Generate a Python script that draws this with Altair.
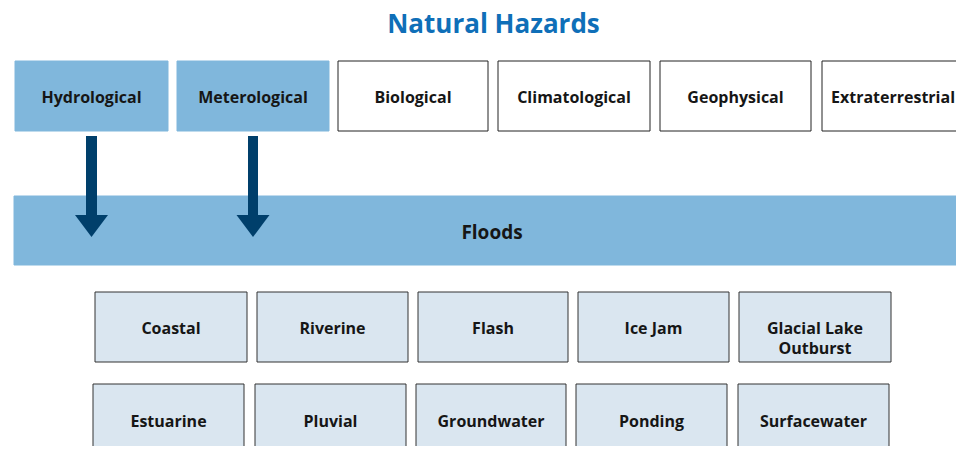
import altair as alt
import pandas as pd

# ---- content ----
title_text = "Natural Hazards"
top_labels = ["Hydrological", "Meterological", "Biological", "Climatological", "Geophysical", "Extraterrestrial"]
top_highlight = [True, True, False, False, False, False]
band_label = "Floods"
row1_labels = ["Coastal", "Riverine", "Flash", "Ice Jam", "Glacial Lake\nOutburst"]
row2_labels = ["Estuarine", "Pluvial", "Groundwater", "Ponding", "Surfacewater"]

# ---- layout (pixel-space of the 964x450 page) ----
top_x0 = [15, 177, 338, 498, 660, 822]
top_x1 = [168, 329, 488, 650, 811, 972]
top_y = (61, 131)
band_x = (14, 972)
band_y = (196, 265)
row1_x0 = [95, 257, 418, 578, 739]
row1_x1 = [247, 408, 568, 729, 891]
row1_y = (292, 362)
row2_x0 = [93, 255, 416, 576, 738]
row2_x1 = [244, 406, 566, 727, 889]
row2_y = (384, 470)
arrow_cx = [91.5, 253]
shaft_w = [11, 10]
shaft_y = (136, 216)
head_cy = 226

BLUE = "#80b7dc"
PALE = "#dae6f0"
NAVY = "#003f6b"
TXT = "#161616"
FONT = "Open Sans"

boxes = []
for lab, hl, a, b in zip(top_labels, top_highlight, top_x0, top_x1):
    boxes.append(dict(label=lab, x0=a, x1=b, y0=top_y[0], y1=top_y[1],
                      fill=BLUE if hl else "#ffffff", stroke=BLUE if hl else "#222222", fs=16))
boxes.append(dict(label=band_label, x0=band_x[0], x1=band_x[1], y0=band_y[0], y1=band_y[1],
                  fill=BLUE, stroke=BLUE, fs=19))
for lab, a, b in zip(row1_labels, row1_x0, row1_x1):
    boxes.append(dict(label=lab, x0=a, x1=b, y0=row1_y[0], y1=row1_y[1], fill=PALE, stroke="#333333", fs=16))
for lab, a, b in zip(row2_labels, row2_x0, row2_x1):
    boxes.append(dict(label=lab, x0=a, x1=b, y0=row2_y[0], y1=row2_y[1], fill=PALE, stroke="#333333", fs=16))
df = pd.DataFrame(boxes)
df["cx"] = (df.x0 + df.x1.clip(upper=964)) / 2
df.loc[df.label == band_label, "cx"] = 492
df["cy"] = (df.y0 + df.y1) / 2 + 2
df.loc[df.label.isin(row2_labels), "cy"] = 422
df["lines"] = df.label.str.split("\n")

arrows = pd.DataFrame(dict(cx=arrow_cx, w=shaft_w))
arrows["sx0"] = arrows.cx - arrows.w / 2
arrows["sx1"] = arrows.cx + arrows.w / 2
arrows["sy0"] = shaft_y[0]
arrows["sy1"] = shaft_y[1]
arrows["hy"] = head_cy

W, H = 948, 438
xs = alt.Scale(domain=[8, 8 + W], nice=False, zero=False)
ys = alt.Scale(domain=[8, 8 + H], nice=False, zero=False, reverse=True)

base = alt.Chart(df)
rects = base.mark_rect(strokeWidth=1, clip=True).encode(
    x=alt.X("x0:Q", scale=xs, axis=None), x2="x1:Q",
    y=alt.Y("y0:Q", scale=ys, axis=None), y2="y1:Q",
    fill=alt.Fill("fill:N", scale=None), stroke=alt.Stroke("stroke:N", scale=None),
)
labels = base.mark_text(font=FONT, fontWeight="bold", color=TXT,
                        baseline="middle", align="center", lineHeight=20).encode(
    x=alt.X("cx:Q", scale=xs, axis=None), y=alt.Y("cy:Q", scale=ys, axis=None), text="lines",
    size=alt.Size("fs:Q", scale=None, legend=None),
)
shafts = alt.Chart(arrows).mark_rect(color=NAVY).encode(
    x=alt.X("sx0:Q", scale=xs, axis=None), x2="sx1:Q",
    y=alt.Y("sy0:Q", scale=ys, axis=None), y2="sy1:Q",
)
heads = alt.Chart(arrows).mark_point(shape="M-1,-0.667L1,-0.667L0,0.667Z", size=1089,
                                     filled=True, opacity=1, color=NAVY, strokeWidth=0).encode(
    x=alt.X("cx:Q", scale=xs, axis=None), y=alt.Y("hy:Q", scale=ys, axis=None)
)
title = alt.Chart(pd.DataFrame(dict(t=[title_text], x=[493.5], y=[25]))).mark_text(
    font=FONT, fontWeight="bold", fontSize=26, color="#0f6fb8", baseline="middle", align="center"
).encode(x=alt.X("x:Q", scale=xs, axis=None), y=alt.Y("y:Q", scale=ys, axis=None), text="t")

chart = alt.layer(rects, shafts, heads, labels, title).properties(
    width=W, height=H, padding=0, autosize=alt.AutoSizeParams(type="none")
).configure_view(stroke=None)

chart.save("out.html", embed_options={"renderer": "svg", "actions": False})
